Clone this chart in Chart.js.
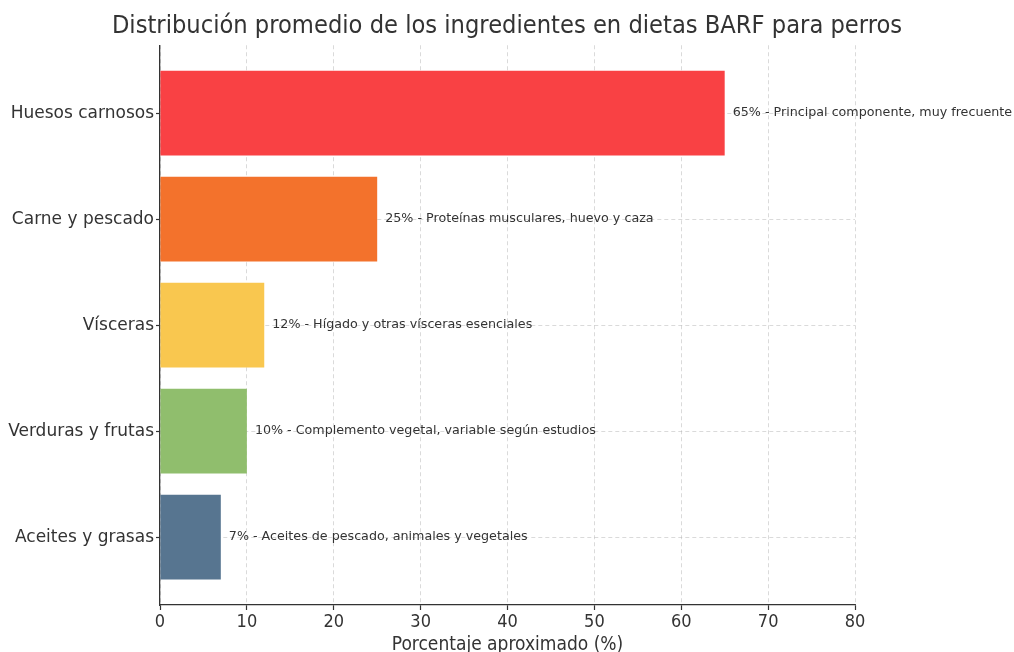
<!DOCTYPE html>
<html lang="es">
<head>
<meta charset="utf-8">
<title>Dieta BARF</title>
<script src="https://cdn.jsdelivr.net/npm/chart.js@4/dist/chart.umd.min.js"></script>
<style>
  html, body { margin: 0; padding: 0; background: #fff; }
  #wrap { width: 1014px; height: 652px; }
</style>
</head>
<body>
<div id="wrap"><canvas id="grafico" width="1014" height="652"></canvas></div>
<script>
const categorias = ['Huesos carnosos', 'Carne y pescado', 'Vísceras', 'Verduras y frutas', 'Aceites y grasas'];
const porcentajes = [65, 25, 12, 10, 7];
const notas = [
    'Principal componente, muy frecuente',
    'Proteínas musculares, huevo y caza',
    'Hígado y otras vísceras esenciales',
    'Complemento vegetal, variable según estudios',
    'Aceites de pescado, animales y vegetales'
];
const colores = ['#f94144', '#f3722c', '#f9c74f', '#90be6d', '#577590'];
const ticksX = [0, 10, 20, 30, 40, 50, 60, 70, 80];

const texto = '#333333';
const rejilla = {
    color: 'rgba(176,176,176,0.6)',
    lineWidth: 0.8,
    offset: false,
    tickColor: '#333333',
    tickWidth: 1.2,
    tickBorderDash: [],
    tickLength: 4
};
const borde = { display: true, color: '#333333', width: 1.3, dash: [4, 3] };

// texto de cada barra: valor + descripción, a la derecha del extremo
const etiquetas = {
    id: 'etiquetas',
    afterDraw(chart) {
        const ctx = chart.ctx;
        const meta = chart.getDatasetMeta(0);
        ctx.save();
        ctx.font = '12.7px "DejaVu Sans"';
        ctx.fillStyle = texto;
        ctx.textAlign = 'left';
        ctx.textBaseline = 'middle';
        meta.data.forEach((barra, i) => {
            ctx.fillText(porcentajes[i] + '% - ' + notas[i], barra.x + 8, barra.y);
        });
        ctx.restore();
    }
};

const ctx = document.getElementById('grafico').getContext('2d');
new Chart(ctx, {
    type: 'bar',
    data: {
        datasets: [{
            data: porcentajes.map((v, i) => ({ x: v, y: i })),
            backgroundColor: colores,
            borderWidth: 0,
            barPercentage: 0.8,
            categoryPercentage: 1
        }]
    },
    options: {
        indexAxis: 'y',
        responsive: false,
        animation: false,
        layout: { padding: 0 },
        plugins: {
            legend: { display: false },
            tooltip: { enabled: false },
            title: {
                display: true,
                text: 'Distribución promedio de los ingredientes en dietas BARF para perros',
                color: texto,
                font: { family: '"DejaVu Sans Condensed", "DejaVu Sans"', size: 25.2, weight: 'normal', lineHeight: 1.2 },
                padding: { top: 11, bottom: 4 }
            }
        },
        scales: {
            x: {
                type: 'linear',
                min: 0,
                max: 80,
                z: 1,
                afterBuildTicks: (s) => { s.ticks = ticksX.map(v => ({ value: v })); },
                afterFit: (s) => { s.height = 47; },
                grid: { ...rejilla, tickLength: 5 },
                border: borde,
                ticks: {
                    color: texto,
                    padding: 2,
                    font: { family: '"DejaVu Sans Condensed", "DejaVu Sans"', size: 18 }
                },
                title: {
                    display: true,
                    text: 'Porcentaje aproximado (%)',
                    color: texto,
                    font: { family: '"DejaVu Sans Condensed", "DejaVu Sans"', size: 19, lineHeight: 1.2 },
                    padding: { top: 0, bottom: -4 }
                }
            },
            y: {
                type: 'linear',
                reverse: true,
                offset: false,
                min: -0.64,
                max: 4.64,
                z: 1,
                afterBuildTicks: (s) => { s.ticks = categorias.map((c, i) => ({ value: i })); },
                afterFit: (s) => { s.width = 160; },
                grid: rejilla,
                border: borde,
                ticks: {
                    color: texto,
                    padding: 2,
                    font: { family: '"DejaVu Sans"', size: 17 },
                    callback: (v) => categorias[v]
                }
            },
            // margen derecho vacío donde caben los textos largos
            margen: {
                type: 'linear',
                position: 'right',
                grid: { display: false },
                ticks: { display: false },
                border: { display: false },
                afterFit: (s) => { s.width = 159; }
            }
        }
    },
    plugins: [etiquetas]
});
</script>
</body>
</html>
